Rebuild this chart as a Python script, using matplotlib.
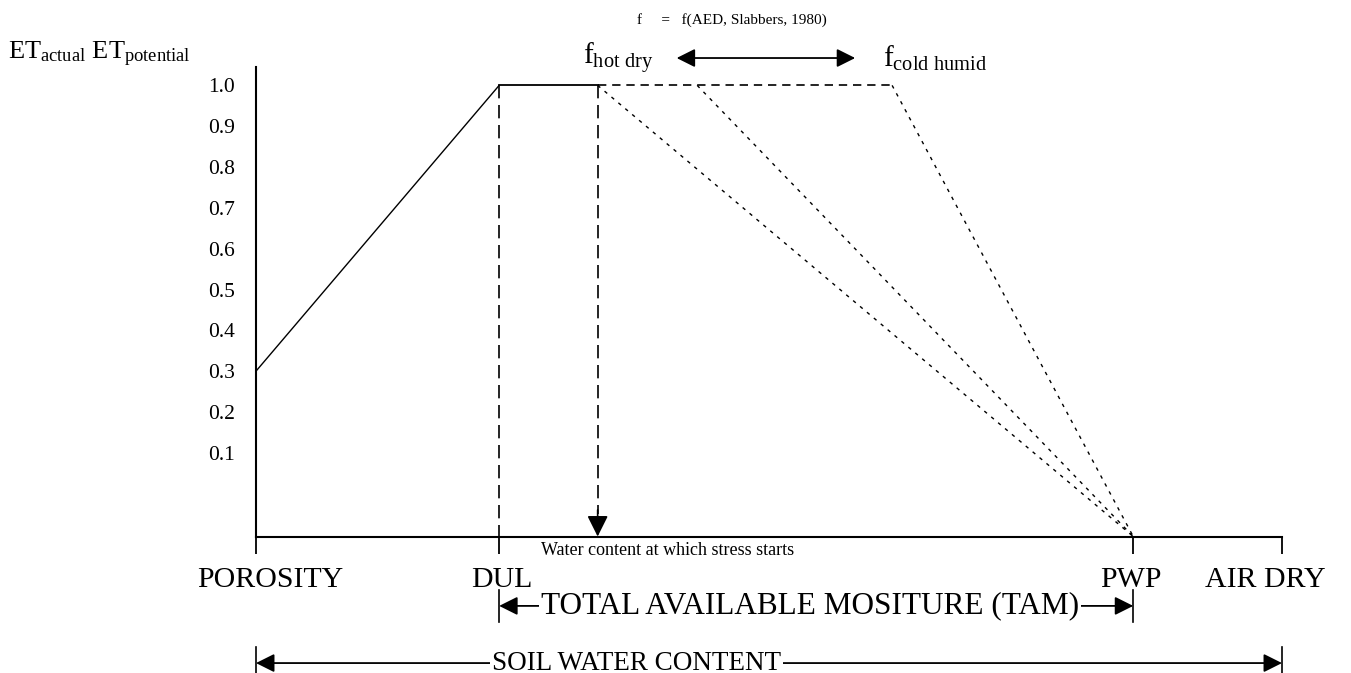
import matplotlib
matplotlib.use("Agg")
import matplotlib.pyplot as plt

plt.rcParams['font.family'] = ['Liberation Serif', 'DejaVu Serif']
plt.rcParams['mathtext.fontset'] = 'custom'
plt.rcParams['mathtext.rm'] = 'Liberation Serif'
plt.rcParams['mathtext.it'] = 'Liberation Serif'

# soil water content axis (0 = porosity, 10 = air dry)
x_names = ['POROSITY', 'DUL', 'PWP', 'AIR DRY']
x_pos = [0.0, 2.37, 8.55, 10.0]
# water content where stress starts, hot/dry -> cold/humid
stress_starts = [3.33, 4.30, 6.20]
ratio_at_porosity = 0.3
ratio_max = 1.0
y_ticks = [0.1, 0.2, 0.3, 0.4, 0.5, 0.6, 0.7, 0.8, 0.9, 1.0]

y_floor = -0.105  # x-axis sits a bit below 0.1 (diagram not to scale)

fig = plt.figure(figsize=(13.51, 6.73), dpi=100)
ax = fig.add_axes([256 / 1351, 1 - 536.5 / 673, 1026 / 1351, (536.5 - 67) / 673])
ax.set_xlim(x_pos[0], x_pos[-1])
ax.set_ylim(y_floor, 1.045)

for s in ['top', 'right']:
    ax.spines[s].set_visible(False)
for s in ['left', 'bottom']:
    ax.spines[s].set_linewidth(1.5)

ax.set_yticks(y_ticks)
ax.set_yticklabels([f"{v:.1f}" for v in y_ticks], fontsize=15.5)
ax.tick_params(axis='y', length=0, pad=15)
ax.set_xticks(x_pos)
ax.set_xticklabels([''] * len(x_pos))
ax.tick_params(axis='x', direction='out', length=12, width=1.3)

# wet side: solid rise from porosity to DUL, then plateau to stress start
dul, pwp = x_pos[1], x_pos[2]
ax.plot([x_pos[0], dul], [ratio_at_porosity, ratio_max], color='black', lw=1.0)
ax.plot([dul, stress_starts[0]], [ratio_max, ratio_max], color='black', lw=1.3)

# dashed plateau extension and the three drying curves to PWP
ax.plot([stress_starts[0], stress_starts[-1]], [ratio_max, ratio_max],
        color='black', lw=1.2, ls=(0, (5, 3.5)))
for xs in stress_starts:
    ax.plot([xs, pwp], [ratio_max, y_floor], color='black', lw=1.0,
            ls=(0, (2.5, 4)), clip_on=False)

# DUL vertical and stress-start arrow
ax.plot([dul, dul], [ratio_max, y_floor], color='black', lw=1.2, ls=(0, (8, 4)))
ax.plot([stress_starts[0], stress_starts[0]], [ratio_max, -0.05],
        color='black', lw=1.2, ls=(0, (8, 4)))
ax.annotate('', xy=(stress_starts[0], y_floor), xytext=(stress_starts[0], -0.04),
            arrowprops=dict(arrowstyle='-|>', color='black', lw=1.2,
                            mutation_scale=32, shrinkA=0, shrinkB=0),
            annotation_clip=False)
ax.text(stress_starts[0] - 0.55, y_floor - 0.035, 'Water content at which stress starts',
        fontsize=13, ha='left', va='center')

# category labels under the axis
offsets = [10, 2, -2, -12]
for name, xp, dx in zip(x_names, x_pos, offsets):
    ax.annotate(name, xy=(xp, 0), xycoords=('data', 'axes fraction'),
                xytext=(dx, -31), textcoords='offset points',
                ha='center', va='center', fontsize=21.5)

# range arrows
def span_arrow(x0, x1, y, label, label_x, size):
    ax.annotate('', xy=(x0, y), xytext=(x1, y),
                arrowprops=dict(arrowstyle='<|-|>', color='black', lw=1.3,
                                mutation_scale=28, shrinkA=0, shrinkB=0),
                annotation_clip=False)
    for xe in (x0, x1):
        ax.plot([xe, xe], [y - 0.04, y + 0.04], color='black', lw=1.2, clip_on=False)
    ax.text(label_x, y, label, ha='center', va='center', fontsize=size,
            bbox=dict(facecolor='white', edgecolor='none', pad=1.5))

span_arrow(dul, pwp, -0.275, 'TOTAL AVAILABLE MOSITURE (TAM)', 5.40, 22.5)
span_arrow(x_pos[0], x_pos[-1], -0.415, 'SOIL WATER CONTENT', 3.71, 19.5)

# y label and f annotations above the plot
ax.text(-2.42, 1.075, r'$\mathrm{ET}_{\mathrm{actual}}\ \mathrm{ET}_{\mathrm{potential}}$',
        fontsize=19, ha='left', va='center', clip_on=False)
ax.text(3.19, 1.067, r'$\mathrm{f}_{\mathrm{hot\ dry}}$', fontsize=21,
        ha='left', va='center', clip_on=False)
ax.text(6.11, 1.067, r'$\mathrm{f}_{\mathrm{cold\ humid}}$', fontsize=21,
        ha='left', va='center', clip_on=False)
ax.annotate('', xy=(4.10, 1.067), xytext=(5.84, 1.067),
            arrowprops=dict(arrowstyle='<|-|>', color='black', lw=1.3,
                            mutation_scale=28, shrinkA=0, shrinkB=0),
            annotation_clip=False)
ax.text(3.71, 1.16, 'f     =   f(AED, Slabbers, 1980)', fontsize=11,
        ha='left', va='center', clip_on=False)

fig.savefig('out.png', dpi=100, facecolor='white')
